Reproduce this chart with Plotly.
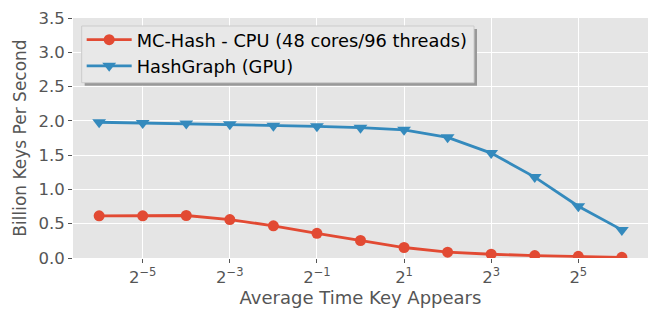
import plotly.graph_objects as go
import math

x_exp = [-6, -5, -4, -3, -2, -1, 0, 1, 2, 3, 4, 5, 6]
cpu_vals = [0.615, 0.615, 0.62, 0.56, 0.47, 0.36, 0.255, 0.153, 0.085, 0.055, 0.036, 0.025, 0.01]
gpu_vals = [1.98, 1.97, 1.96, 1.95, 1.93, 1.92, 1.90, 1.87, 1.76, 1.53, 1.18, 0.755, 0.41]
tick_exp = [-5, -3, -1, 1, 3, 5]
tick_text = ["2<sup>%d</sup>" % e if e >= 0 else "2<sup>\u2212%d</sup>" % (-e) for e in tick_exp]
y_ticks = [0, 0.5, 1, 1.5, 2, 2.5, 3, 3.5]
y_tick_text = ["0.0", "0.5", "1.0", "1.5", "2.0", "2.5", "3.0", "3.5"]

xs = [2.0 ** e for e in x_exp]
font = "DejaVu Sans"

fig = go.Figure()
fig.add_trace(go.Scatter(x=xs, y=cpu_vals, mode="lines+markers",
                         name="MC-Hash - CPU (48 cores/96 threads)",
                         line=dict(color="#E24A33", width=2.8),
                         marker=dict(symbol="circle", size=11, color="#E24A33")))
fig.add_trace(go.Scatter(x=xs, y=gpu_vals, mode="lines+markers",
                         name="HashGraph (GPU)",
                         line=dict(color="#348ABD", width=2.8),
                         marker=dict(symbol="triangle-down", size=12, color="#348ABD")))

# legend box with shadow (paper coords)
fig.add_shape(type="rect", xref="paper", yref="paper", layer="above",
              x0=0.0203, x1=0.7026, y0=0.7179, y1=0.954,
              line=dict(width=0), fillcolor="#999999")
fig.add_shape(type="rect", xref="paper", yref="paper", layer="above",
              x0=0.0151, x1=0.6974, y0=0.7304, y1=0.9667,
              line=dict(width=1, color="#CCCCCC"), fillcolor="#E8E8E8")

l2 = math.log10(2)
fig.update_layout(
    width=665, height=317,
    margin=dict(l=73, r=17, t=18, b=59),
    paper_bgcolor="white", plot_bgcolor="#E5E5E5",
    font=dict(family=font, color="#555555", size=16),
    showlegend=True,
    legend=dict(x=0.0151, y=0.985, xanchor="left", yanchor="top",
                bgcolor="rgba(0,0,0,0)", borderwidth=0,
                font=dict(family=font, size=17.8, color="black"),
                tracegroupgap=0, itemwidth=45),
    xaxis=dict(type="log", range=[-6.6 * l2, 6.6 * l2],
               tickvals=[2.0 ** e for e in tick_exp], ticktext=tick_text,
               showgrid=True, gridcolor="white", gridwidth=1.2,
               ticks="outside", ticklen=4, tickcolor="#555555",
               zeroline=False, showline=False, automargin=False,
               tickfont=dict(family=font, size=16.5, color="#555555"),
               title=dict(text="Average Time Key Appears", standoff=4,
                          font=dict(family=font, size=18, color="#555555"))),
    yaxis=dict(range=[0, 3.5], tickvals=y_ticks, ticktext=y_tick_text,
               showgrid=True, gridcolor="white", gridwidth=1.2,
               ticks="outside", ticklen=4, tickcolor="#555555",
               zeroline=False, showline=False, automargin=False,
               tickfont=dict(family=font, size=16.5, color="#555555"),
               title=dict(text="Billion Keys Per Second", standoff=7,
                          font=dict(family=font, size=17, color="#555555"))),
)
fig.write_html("out.html", config={"displayModeBar": False},
               post_script="document.body.style.margin='0';document.body.style.overflow='hidden';")
